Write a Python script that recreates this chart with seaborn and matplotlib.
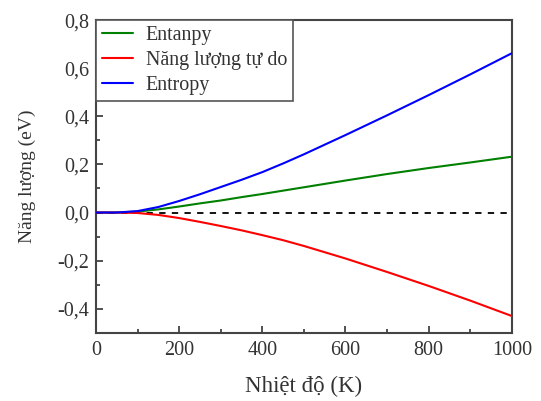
import numpy as np
import pandas as pd
import matplotlib
matplotlib.use("Agg")
import matplotlib.pyplot as plt
from matplotlib.ticker import MultipleLocator, FuncFormatter
import seaborn as sns

# Data
temperature = [0, 50, 100, 150, 200, 250, 300, 350, 400, 450, 500, 600, 700, 800, 900, 1000]
entanpy = [0.0, 0.0, 0.004, 0.013, 0.025, 0.038, 0.050, 0.064, 0.077, 0.091, 0.105, 0.133, 0.160, 0.185, 0.208, 0.232]
free_energy = [0.0, 0.0, -0.002, -0.010, -0.023, -0.039, -0.056, -0.074, -0.094, -0.115, -0.139, -0.191, -0.247, -0.305, -0.366, -0.430]
entropy = [0.0, 0.0, 0.006, 0.023, 0.048, 0.076, 0.106, 0.136, 0.168, 0.204, 0.242, 0.322, 0.404, 0.488, 0.574, 0.662]
series_names = ["Entanpy", "Năng lượng tự do", "Entropy"]
series_colors = ["#008000", "#ff0000", "#0000ff"]

df = pd.concat([
    pd.DataFrame({"T": temperature, "E": vals, "series": name})
    for name, vals in zip(series_names, [entanpy, free_energy, entropy])
], ignore_index=True)

sns.set_style("ticks")
plt.rcParams["font.family"] = ["Liberation Serif", "DejaVu Serif"]

fig = plt.figure(figsize=(5.41, 4.01), dpi=100)
ax = fig.add_axes([0.1775, 0.170, 0.7685, 0.780])

ax.plot([0, 1000], [0, 0], color="black", linestyle=(0, (3.5, 3.5)), linewidth=1.3, zorder=1)
sns.lineplot(data=df, x="T", y="E", hue="series", hue_order=series_names,
             palette=dict(zip(series_names, series_colors)), linewidth=1.5, ax=ax, zorder=3)

ax.set_xlim(0, 1000)
ax.set_ylim(-0.5, 0.8)
ax.xaxis.set_major_locator(MultipleLocator(200))
ax.xaxis.set_minor_locator(MultipleLocator(100))
ax.yaxis.set_major_locator(MultipleLocator(0.2))
ax.yaxis.set_minor_locator(MultipleLocator(0.1))
ax.yaxis.set_major_formatter(FuncFormatter(lambda v, p: f"{v:.1f}".replace(".", ",")))
ax.tick_params(which="both", direction="in", top=False, right=False, colors="#333333",
               labelcolor="#333333", labelsize=14.5, width=1.2)
ax.tick_params(which="major", length=5)
ax.tick_params(which="minor", length=3)
ax.tick_params(axis="x", which="major", pad=6)
ax.tick_params(axis="y", which="major", pad=5)
for s in ax.spines.values():
    s.set_color("#444444")
    s.set_linewidth(1.5)

ax.set_xlabel("Nhiệt độ (K)", fontsize=16.5, color="#333333", labelpad=11)
ax.set_ylabel("Năng lượng (eV)", fontsize=14, color="#333333", labelpad=15)

leg = ax.legend(loc="upper left", borderaxespad=0, fancybox=False, fontsize=14.4,
                edgecolor="#555555", framealpha=1, handlelength=1.55, labelspacing=0.32,
                borderpad=0.28, handletextpad=0.65)
leg.get_frame().set_linewidth(1.2)
for t in leg.get_texts():
    t.set_color("#333333")

fig.savefig("out.png", dpi=100)
